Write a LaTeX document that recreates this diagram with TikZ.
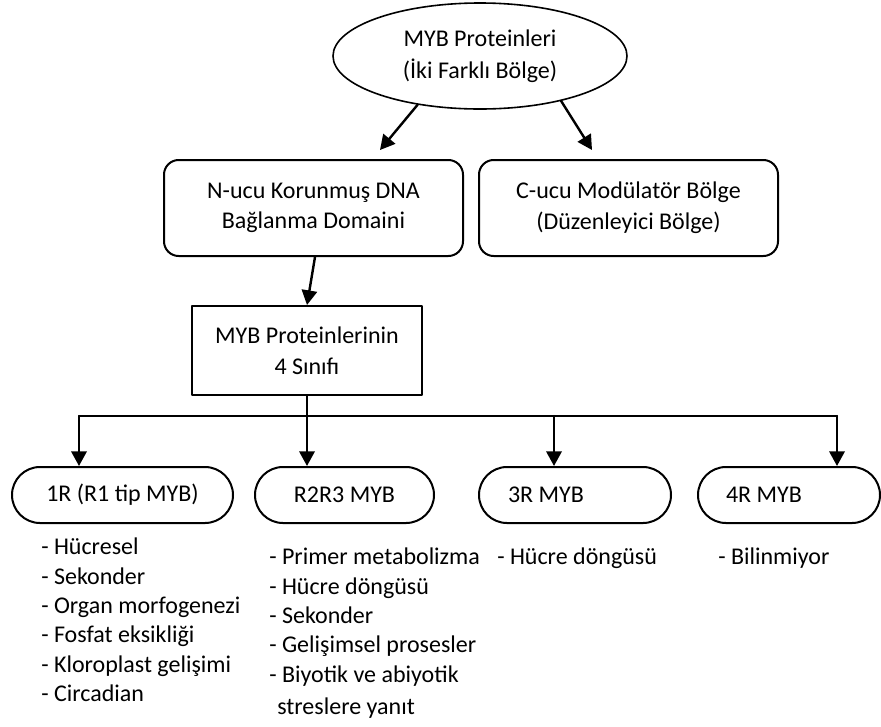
\documentclass[tikz,border=0pt]{standalone}
\usepackage{fontspec}
\setmainfont{Carlito}
\usetikzlibrary{arrows.meta, positioning, calc, shapes.geometric}
\tikzset{every node/.style={font=\fontsize{18}{23}\selectfont}, every path/.style={line cap=round, line join=round}, >={Triangle[length=11pt, width=11.5pt]}}

\begin{document}
\begin{tikzpicture}[
    x=0.75pt, y=-0.75pt,
    box/.style={
        draw,
        line width=1.5pt,
        rounded corners=11pt,
        align=center,
        minimum width=224.25pt,
        minimum height=72pt,
        inner sep=0pt
    },
    pill/.style={
        draw,
        line width=1.5pt,
        rounded corners=21pt,
        minimum height=42pt,
        inner sep=0pt
    },
    arrow/.style={
        ->,
        line width=1.8pt
    },
    list/.style={
        align=left,
        anchor=north west,
        inner sep=0pt,
        font=\fontsize{18}{22}\selectfont
    }
]
\useasboundingbox (0,0) rectangle (881,726);

\node[draw, ellipse, line width=1.2pt, minimum width=220.5pt, minimum height=79.5pt,
      align=center, inner sep=0pt, font=\fontsize{18}{24}\selectfont] (myb) at (480,56)
{MYB Proteinleri\\(İki Farklı Bölge)};

\node[box] (nterm) at (313.5,208) {N-ucu Korunmuş DNA\\Bağlanma Domaini};
\node[box] (cterm) at (628.5,208) {C-ucu Modülatör Bölge\\(Düzenleyici Bölge)};

\node[draw, line width=1.5pt, align=center, minimum width=172.5pt, minimum height=66.75pt,
      inner sep=0pt] (cls) at (307,350.5) {MYB Proteinlerinin\\4 Sınıfı};

\draw[arrow] (myb.218) -- ($(nterm.north)+(66.5,-9)$);
\draw[arrow] (myb.331) -- ($(cterm.north)+(-36.5,-9)$);
\draw[arrow] ($(nterm.south)+(1.5,0)$) -- (cls.north);

% four classes
\node[pill, minimum width=165.75pt] (r1) at (122.5,495) {1R (R1 tip MYB)};
\node[pill, minimum width=134.25pt] (r2r3) at (344.5,495) {R2R3 MYB};
\node[pill, minimum width=144pt] (r3) at (575,495) {\makebox[100.5pt][l]{3R MYB}};
\node[pill, minimum width=136.5pt] (r4) at (789,495) {\makebox[94.5pt][l]{4R MYB}};

\coordinate (b1) at (79,416);
\coordinate (b2) at (307,416);
\coordinate (b3) at (554,416);
\coordinate (b4) at (837,416);
\draw[line width=1.5pt] (cls.south) -- (b2);
\draw[line width=1.5pt] (b1) -- (b4);
\foreach \b/\p in {b1/r1, b2/r2r3, b3/r3, b4/r4}
    \draw[arrow] (\b) -- (\b |- \p.north);

% functions
\node[list] (l1) at (41,538)
{- Hücresel\\- Sekonder\\- Organ morfogenezi\\- Fosfat eksikliği\\- Kloroplast gelişimi\\- Circadian};
\node[list] (l2) at (269,548)
{- Primer metabolizma\\- Hücre döngüsü\\- Sekonder\\- Gelişimsel prosesler\\- Biyotik ve abiyotik\\[2pt]\hspace{6pt}streslere yanıt};
\node[list] (l3) at (497,548) {- Hücre döngüsü};
\node[list] (l4) at (718,548) {- Bilinmiyor};

\end{tikzpicture}
\end{document}
